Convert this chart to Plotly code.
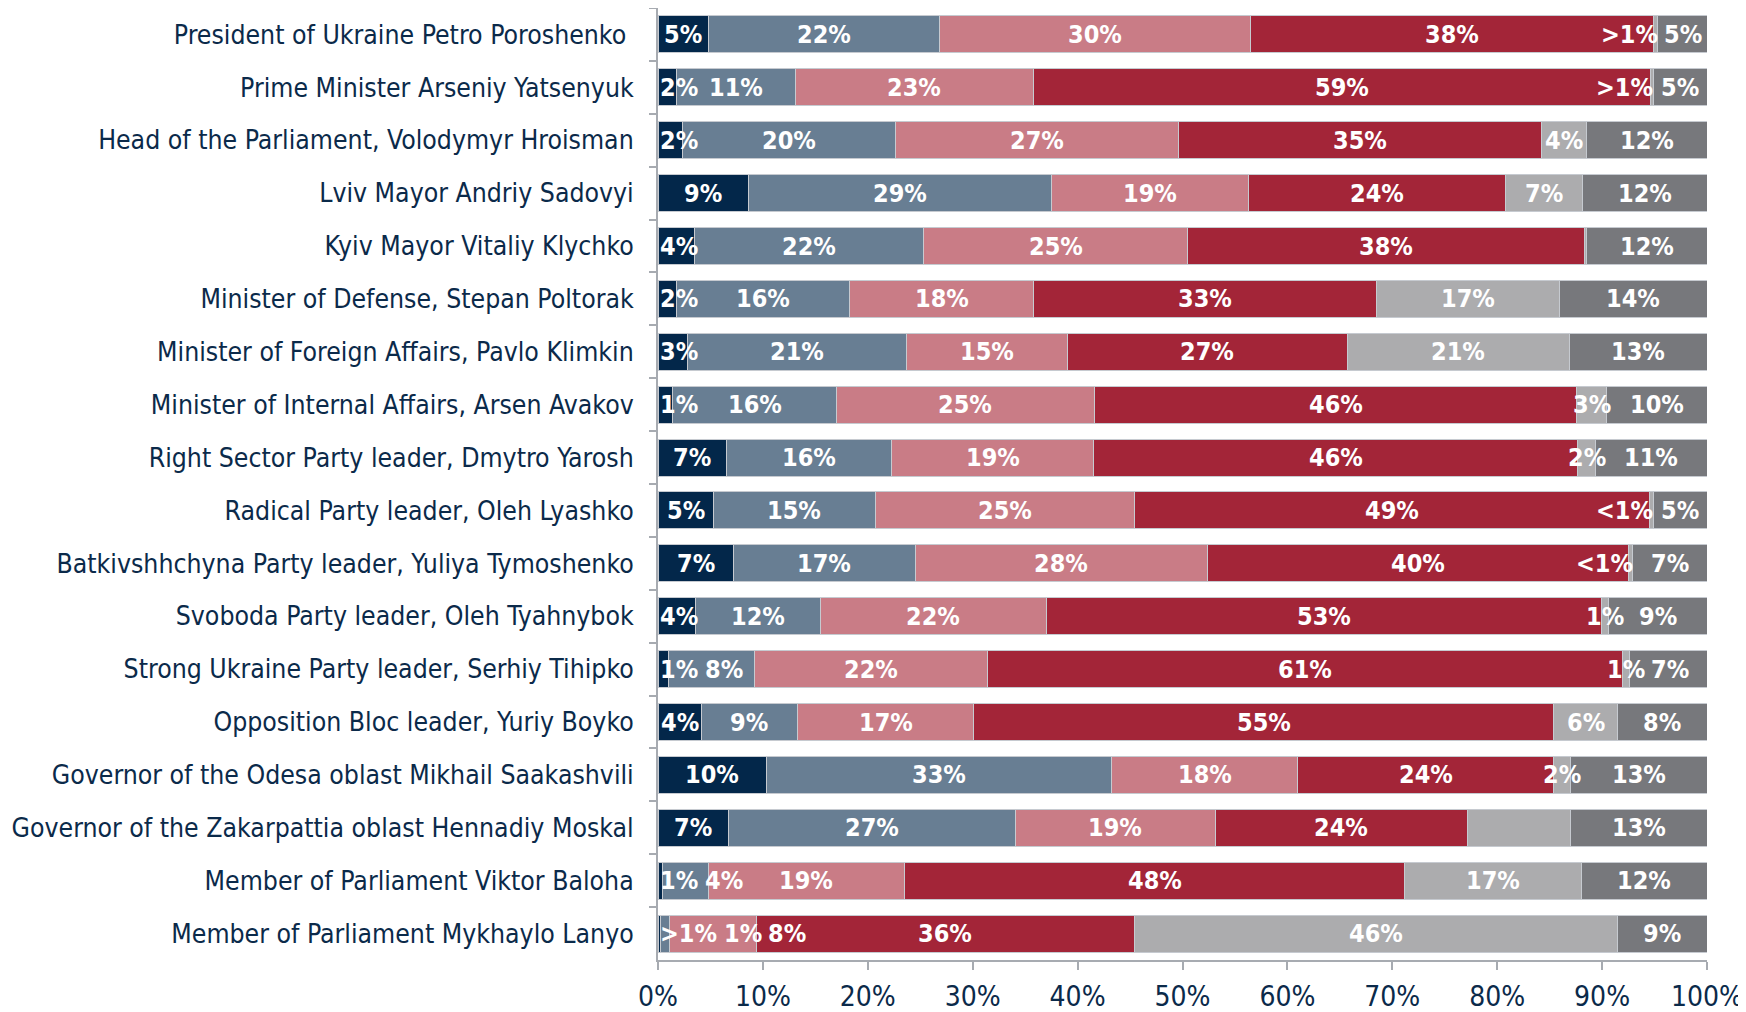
import plotly.graph_objects as go

categories = [
    "President of Ukraine Petro Poroshenko\u00a0",
    "Prime Minister Arseniy Yatsenyuk",
    "Head of the Parliament, Volodymyr Hroisman",
    "Lviv Mayor Andriy Sadovyi",
    "Kyiv Mayor Vitaliy Klychko",
    "Minister of Defense, Stepan Poltorak",
    "Minister of Foreign Affairs, Pavlo Klimkin",
    "Minister of Internal Affairs, Arsen Avakov",
    "Right Sector Party leader, Dmytro Yarosh",
    "Radical Party leader, Oleh Lyashko",
    "Batkivshhchyna Party leader, Yuliya Tymoshenko",
    "Svoboda Party leader, Oleh Tyahnybok",
    "Strong Ukraine Party leader, Serhiy Tihipko",
    "Opposition Bloc leader, Yuriy Boyko",
    "Governor of the Odesa oblast Mikhail Saakashvili",
    "Governor of the Zakarpattia oblast Hennadiy Moskal",
    "Member of Parliament Viktor Baloha",
    "Member of Parliament Mykhaylo Lanyo",
]

s1_values = [4.8, 1.8, 2.3, 8.6, 3.5, 1.8, 2.8, 1.4, 6.5, 5.3, 7.2, 3.6, 1.0, 4.1, 10.3, 6.7, 0.4, 0.2]
s2_values = [22.0, 11.3, 20.3, 28.9, 21.8, 16.5, 20.9, 15.6, 15.8, 15.4, 17.3, 11.9, 8.2, 9.2, 32.9, 27.4, 4.4, 0.9]
s3_values = [29.7, 22.7, 27.0, 18.8, 25.2, 17.5, 15.3, 24.6, 19.2, 24.7, 27.9, 21.5, 22.2, 16.8, 17.8, 19.0, 18.7, 8.3]
s4_values = [38.4, 58.8, 34.6, 24.5, 37.8, 32.7, 26.7, 46.0, 46.2, 49.1, 40.1, 52.9, 60.5, 55.3, 24.4, 24.1, 47.7, 36.0]
s5_values = [0.4, 0.3, 4.3, 7.3, 0.2, 17.4, 21.2, 2.8, 1.7, 0.4, 0.4, 0.7, 0.7, 6.1, 1.6, 9.8, 16.8, 46.1]
s6_values = [4.7, 5.1, 11.5, 11.9, 11.5, 14.1, 13.1, 9.6, 10.6, 5.1, 7.1, 9.4, 7.4, 8.5, 13.0, 13.0, 12.0, 8.5]

s1_labels = ["5%", "2%", "2%", "9%", "4%", "2%", "3%", "1%", "7%", "5%", "7%", "4%", "1%", "4%", "10%", "7%", "1%", ">1%"]
s2_labels = ["22%", "11%", "20%", "29%", "22%", "16%", "21%", "16%", "16%", "15%", "17%", "12%", "8%", "9%", "33%", "27%", "4%", "1%"]
s3_labels = ["30%", "23%", "27%", "19%", "25%", "18%", "15%", "25%", "19%", "25%", "28%", "22%", "22%", "17%", "18%", "19%", "19%", "8%"]
s4_labels = ["38%", "59%", "35%", "24%", "38%", "33%", "27%", "46%", "46%", "49%", "40%", "53%", "61%", "55%", "24%", "24%", "48%", "36%"]
s5_labels = [">1%", ">1%", "4%", "7%", "", "17%", "21%", "3%", "2%", "<1%", "<1%", "1%", "1%", "6%", "2%", "", "17%", "46%"]
s6_labels = ["5%", "5%", "12%", "12%", "12%", "14%", "13%", "10%", "11%", "5%", "7%", "9%", "7%", "8%", "13%", "13%", "12%", "9%"]

x_tick_values = [0, 10, 20, 30, 40, 50, 60, 70, 80, 90, 100]
x_tick_labels = ["0%", "10%", "20%", "30%", "40%", "50%", "60%", "70%", "80%", "90%", "100%"]

series = [s1_values, s2_values, s3_values, s4_values, s5_values, s6_values]
labels = [s1_labels, s2_labels, s3_labels, s4_labels, s5_labels, s6_labels]
colors = ["#03274a", "#687e93", "#c97c86", "#a32538", "#acacae", "#77787c"]

NAVY = "#0b2a4a"
FONT = "DejaVu Sans Condensed, DejaVu Sans, sans-serif"
LBL_SIZE = 25
PX_PER_UNIT = 1049 / 100.0


def text_width(t):
    w = 0.0
    for ch in t:
        if ch.isdigit():
            w += 0.626
        elif ch == "%":
            w += 0.902
        elif ch in "<>":
            w += 0.754
        else:
            w += 0.4
    return w * LBL_SIZE / PX_PER_UNIT


fig = go.Figure()
for vals, col in zip(series, colors):
    fig.add_trace(go.Bar(
        y=categories, x=vals, orientation="h",
        marker=dict(color=col, line=dict(color="#c6cad0", width=1)),
        hoverinfo="skip", showlegend=False,
    ))

annotations = []
GAP = 0.6
for r, cat in enumerate(categories):
    start = 0.0
    items = []
    for k in range(6):
        v = series[k][r]
        t = labels[k][r]
        end = start + v
        if t:
            w = text_width(t)
            center = (start + end) / 2
            left = center - w / 2
            if k == 0 and left < 0:
                left = 0.2
            if k == 4 and (t.startswith("<") or t.startswith(">")):
                left = end - w
            items.append([left, w, t])
        start = end
    prev_right = -1e9
    for it in items:
        if it[0] < prev_right + GAP:
            it[0] = prev_right + GAP
        prev_right = it[0] + it[1]
        annotations.append(dict(
            x=it[0] + it[1] / 2, y=cat, xref="x", yref="y",
            text=it[2], showarrow=False, xanchor="center", yanchor="middle",
            font=dict(family=FONT, size=LBL_SIZE, color="white", weight="bold"),
        ))

fig.update_layout(
    barmode="stack",
    bargap=0.3,
    width=1738, height=1004,
    margin=dict(l=650, r=39, t=0, b=52),
    plot_bgcolor="white", paper_bgcolor="white",
    annotations=annotations,
    font=dict(family=FONT, color=NAVY),
)
fig.update_xaxes(
    range=[0, 100], tickvals=x_tick_values, ticktext=x_tick_labels,
    showgrid=False, zeroline=False, automargin=False,
    showline=True, linecolor="#a7abb1", linewidth=2,
    ticks="outside", ticklen=8, tickcolor="#a7abb1", tickwidth=2,
    tickfont=dict(family=FONT, size=28, color=NAVY),
    ticklabelstandoff=2,
)
fig.update_yaxes(
    autorange="reversed", type="category",
    showgrid=False, zeroline=False, automargin=False,
    showline=True, linecolor="#a7abb1", linewidth=2,
    ticks="outside", ticklen=7, tickcolor="#a7abb1", tickwidth=2,
    tickson="boundaries",
    tickfont=dict(family=FONT, size=26.4, color=NAVY),
    ticklabelstandoff=17,
)

fig.write_html("out.html")
